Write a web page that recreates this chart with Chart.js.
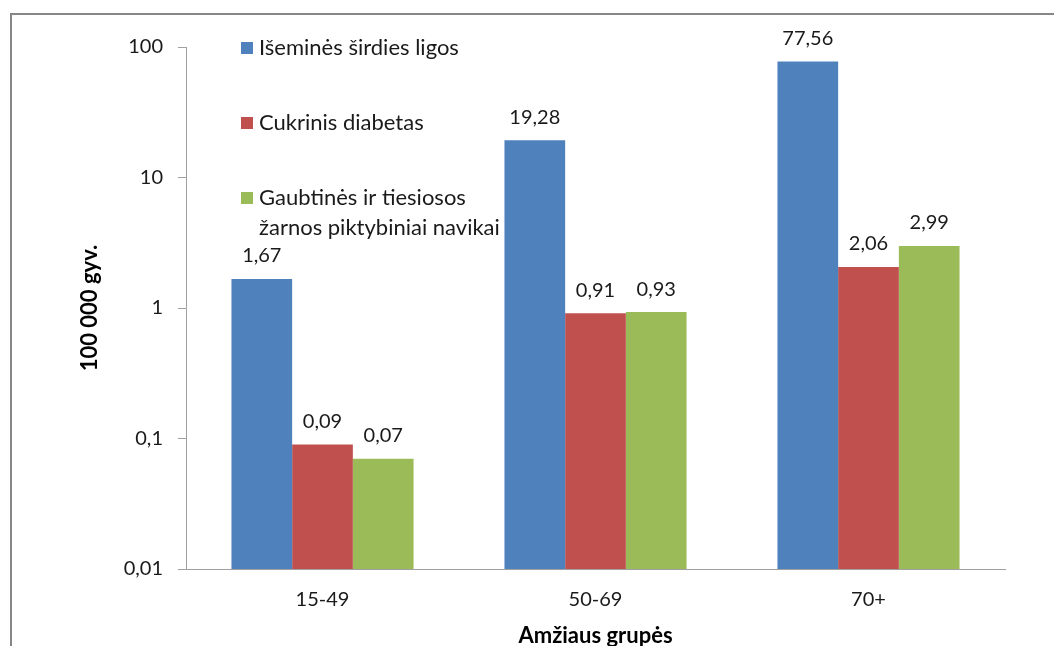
<!DOCTYPE html>
<html>
<head>
<meta charset="utf-8">
<script src="https://cdn.jsdelivr.net/npm/chart.js@4"></script>
<style>
  html, body { margin: 0; padding: 0; background: #fff; }
  #wrap { width: 1054px; height: 646px; }
</style>
</head>
<body>
<div id="wrap"><canvas id="chart" width="1054" height="646"></canvas></div>
<script>
const ageGroups = ['15-49', '50-69', '70+'];
const seriesNames = ['Išeminės širdies ligos', 'Cukrinis diabetas', 'Gaubtinės ir tiesiosos žarnos piktybiniai navikai'];
const ischemicValues = [1.67, 19.28, 77.56];
const diabetesValues = [0.09, 0.91, 2.06];
const colorectalValues = [0.07, 0.93, 2.99];
const yTickValues = [0.01, 0.1, 1, 10, 100];

const colors = ['#4F81BD', '#C0504D', '#9BBB59'];
const fontFamily = 'Lato, "Noto Sans", sans-serif';

function fmt(v) {
    return String(v).replace('.', ',');
}

// rėmelis aplink diagramą
const framePlugin = {
    id: 'frame',
    beforeDraw(chart) {
        const ctx = chart.ctx;
        ctx.save();
        ctx.fillStyle = '#fff';
        ctx.fillRect(0, 0, chart.width, chart.height);
        ctx.strokeStyle = '#878787';
        ctx.lineWidth = 2;
        ctx.strokeRect(11, 14, 1200, 800);
        ctx.restore();
    }
};

// reikšmės virš stulpelių
const valueLabels = {
    id: 'valueLabels',
    afterDatasetsDraw(chart) {
        const ctx = chart.ctx;
        ctx.save();
        ctx.font = '20px ' + fontFamily;
        ctx.fillStyle = '#1a1a1a';
        ctx.textAlign = 'center';
        ctx.textBaseline = 'middle';
        chart.data.datasets.forEach((ds, i) => {
            chart.getDatasetMeta(i).data.forEach((bar, j) => {
                ctx.fillText(ds.data[j].toFixed(2).replace('.', ','), bar.x, bar.y - 23);
            });
        });
        ctx.restore();
    }
};

// legenda diagramos viduje
const insideLegend = {
    id: 'insideLegend',
    afterDraw(chart) {
        const ctx = chart.ctx;
        const rows = [[seriesNames[0]], [seriesNames[1]], ['Gaubtinės ir tiesiosos', 'žarnos piktybiniai navikai']];
        const ys = [48, 123, 198];
        ctx.save();
        ctx.font = '22px ' + fontFamily;
        ctx.textBaseline = 'middle';
        rows.forEach((lines, i) => {
            ctx.fillStyle = colors[i];
            ctx.fillRect(241, ys[i] - 6, 12, 12);
            ctx.fillStyle = '#1a1a1a';
            lines.forEach((t, k) => ctx.fillText(t, 259, ys[i] + k * 30));
        });
        ctx.restore();
    }
};

new Chart(document.getElementById('chart'), {
    type: 'bar',
    data: {
        labels: ageGroups,
        datasets: [
            { label: seriesNames[0], data: ischemicValues, backgroundColor: colors[0] },
            { label: seriesNames[1], data: diabetesValues, backgroundColor: colors[1] },
            { label: seriesNames[2], data: colorectalValues, backgroundColor: colors[2] }
        ]
    },
    options: {
        responsive: false,
        animation: false,
        layout: { padding: { left: 0, top: 47, right: 49, bottom: 0 } },
        datasets: { bar: { categoryPercentage: 0.667, barPercentage: 1 } },
        plugins: {
            legend: { display: false },
            tooltip: { enabled: false }
        },
        scales: {
            x: {
                grid: { display: false, drawTicks: false },
                border: { color: '#a0a0a0', width: 1 },
                ticks: { padding: 19, color: '#1a1a1a', font: { family: fontFamily, size: 20 } },
                title: {
                    display: true,
                    text: 'Amžiaus grupės',
                    color: '#000',
                    font: { family: fontFamily, size: 22, weight: 'bold' },
                    padding: { top: 0, bottom: -3 }
                },
                afterFit(scale) { scale.height = 77; }
            },
            y: {
                type: 'logarithmic',
                min: 0.01,
                max: 100,
                grid: { drawOnChartArea: false, color: '#a0a0a0', tickLength: 8 },
                border: { color: '#a0a0a0', width: 1 },
                afterBuildTicks(scale) {
                    scale.ticks = yTickValues.map(v => ({ value: v }));
                },
                ticks: {
                    padding: 15,
                    color: '#1a1a1a',
                    font: { family: fontFamily, size: 20 },
                    callback: v => fmt(v)
                },
                title: {
                    display: true,
                    text: '100 000 gyv.',
                    color: '#000',
                    font: { family: fontFamily, size: 22, weight: 'bold' },
                    padding: { top: 77, bottom: 0 }
                },
                afterFit(scale) { scale.width = 186; }
            }
        }
    },
    plugins: [framePlugin, valueLabels, insideLegend]
});
</script>
</body>
</html>
